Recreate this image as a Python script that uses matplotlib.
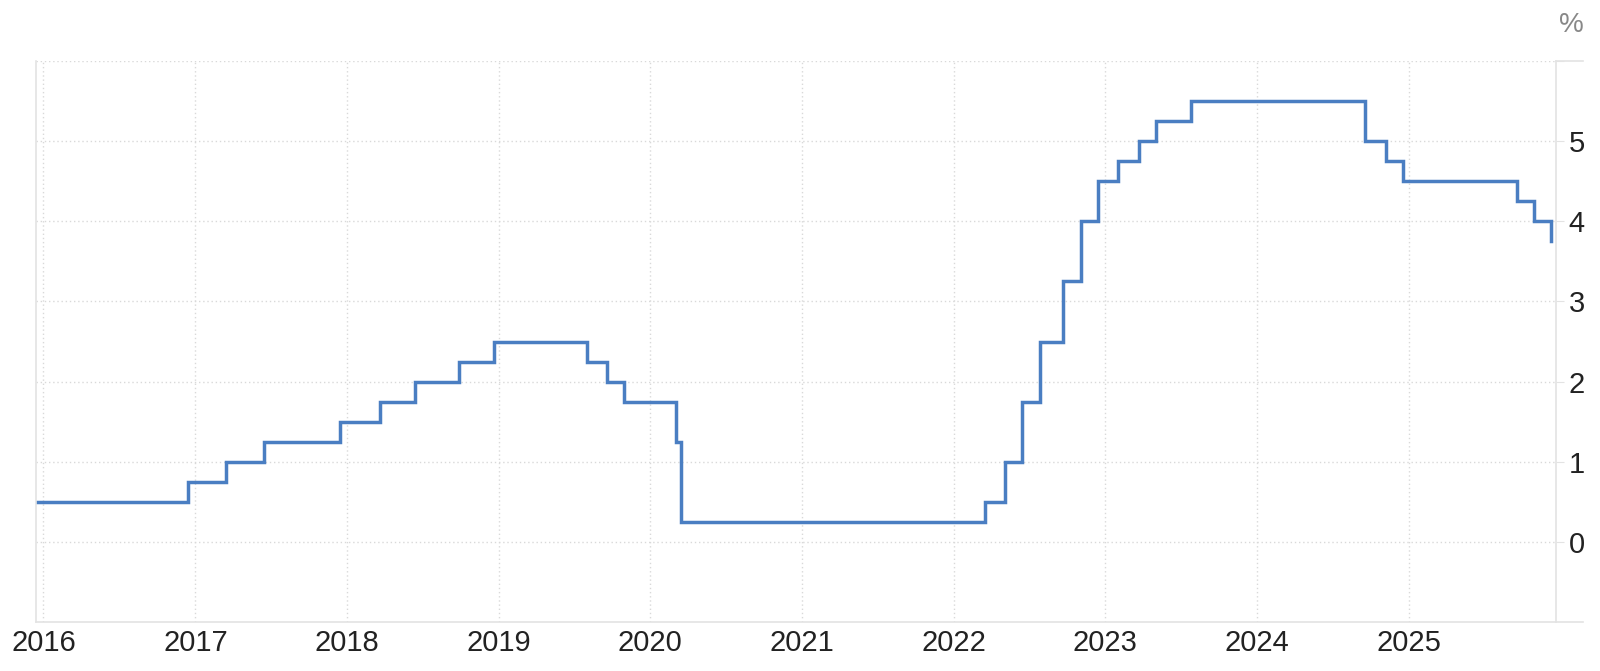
import matplotlib
matplotlib.use("Agg")
import matplotlib.pyplot as plt
import matplotlib.dates as mdates
import numpy as np
from datetime import datetime

plt.rcParams["font.family"] = ["Liberation Sans", "DejaVu Sans"]

# Tanggal perubahan suku bunga (batas atas) dan nilainya
dates = [
    "2015-12-14", "2016-12-15", "2017-03-16", "2017-06-15", "2017-12-14",
    "2018-03-22", "2018-06-14", "2018-09-27", "2018-12-20", "2019-08-01",
    "2019-09-19", "2019-10-31", "2020-03-04", "2020-03-16", "2022-03-17",
    "2022-05-05", "2022-06-16", "2022-07-28", "2022-09-22", "2022-11-03",
    "2022-12-15", "2023-02-02", "2023-03-23", "2023-05-04", "2023-07-27",
    "2024-09-19", "2024-11-08", "2024-12-19", "2025-09-18", "2025-10-30",
    "2025-12-11",
]
rates = [
    0.50, 0.75, 1.00, 1.25, 1.50,
    1.75, 2.00, 2.25, 2.50, 2.25,
    2.00, 1.75, 1.25, 0.25, 0.50,
    1.00, 1.75, 2.50, 3.25, 4.00,
    4.50, 4.75, 5.00, 5.25, 5.50,
    5.00, 4.75, 4.50, 4.25, 4.00,
    3.75,
]
year_ticks = list(range(2016, 2026))
y_ticks = [0, 1, 2, 3, 4, 5]

x = [datetime.strptime(d, "%Y-%m-%d") for d in dates]
# nilai terakhir hanya muncul sebagai garis turun
x_plot = x[:-1] + [x[-1], x[-1]]
y_plot = rates[:-1] + [rates[-2], rates[-1]]

fig = plt.figure(figsize=(16, 6.71), dpi=100)
ax = fig.add_axes([0.0225, 0.073, 0.95, 0.836])

ax.plot(x_plot, y_plot, drawstyle="steps-post", color="#4a7ec2", lw=2.5, solid_joinstyle="miter")

ax.set_xlim(datetime(2015, 12, 14), datetime(2025, 12, 22))
ax.set_ylim(-1, 6)

ax.set_xticks([datetime(y, 1, 1) for y in year_ticks])
ax.xaxis.set_major_formatter(mdates.DateFormatter("%Y"))
ax.set_yticks(y_ticks + [6])
ax.set_yticklabels([str(v) for v in y_ticks] + [""])

ax.grid(True, color="#d9d9d9", linestyle=(0, (1, 2)), lw=1)
ax.yaxis.tick_right()
ax.tick_params(axis="y", length=6, color="#e3e3e3", labelsize=21, labelcolor="#222222", pad=3)
ax.tick_params(axis="x", length=0, labelsize=21, labelcolor="#222222", pad=5)

ax.spines["top"].set_visible(False)
for side in ["left", "right", "bottom"]:
    ax.spines[side].set_color("#e3e3e3")
    ax.spines[side].set_linewidth(1.2)

# garis bawah dan atas sedikit melewati sumbu kanan
ax.plot([1.0, 1.018], [0, 0], transform=ax.transAxes, color="#e3e3e3", lw=1.2, clip_on=False)
ax.plot([1.0, 1.018], [1, 1], transform=ax.transAxes, color="#e3e3e3", lw=1.2, clip_on=False)

fig.text(0.9745, 0.963, "%", fontsize=20, color="#888888", ha="left", va="center")

fig.savefig("out.png", dpi=100)
